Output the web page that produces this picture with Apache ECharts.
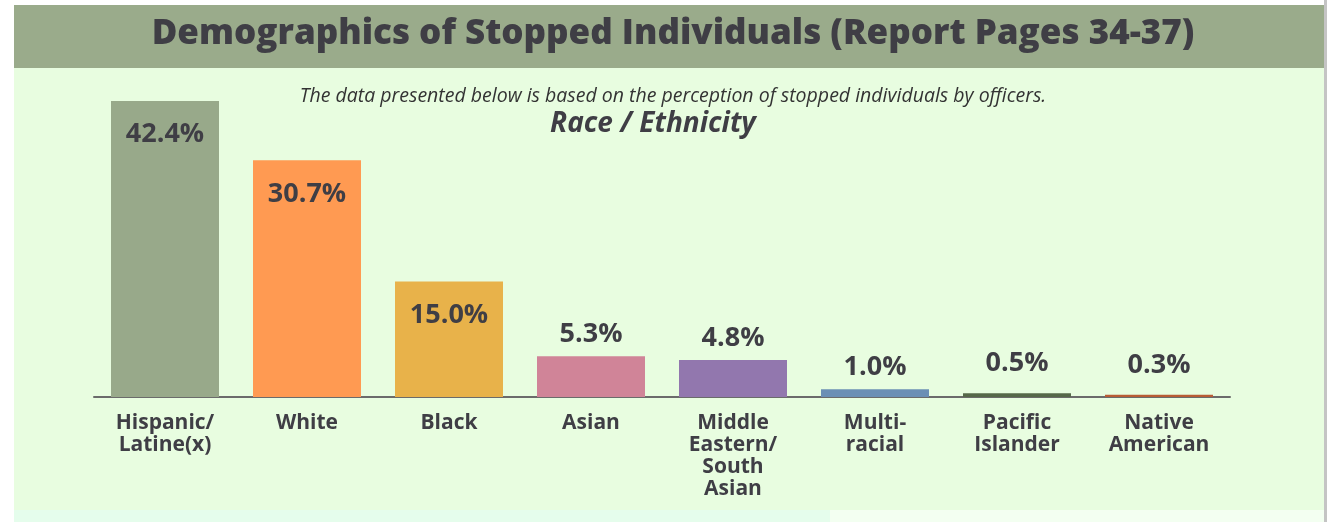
<!DOCTYPE html>
<html>
<head>
<meta charset="utf-8">
<title>Demographics of Stopped Individuals</title>
<script src="https://cdn.jsdelivr.net/npm/echarts@6/dist/echarts.min.js"></script>
<style>
  html, body {
    margin: 0;
    padding: 0;
    background: #ffffff;
  }
  #chart {
    width: 1332px;
    height: 522px;
  }
</style>
</head>
<body>
<div id="chart"></div>
<script>
// chart data
const categories = [
  'Hispanic/\nLatine(x)',
  'White',
  'Black',
  'Asian',
  'Middle\nEastern/\nSouth\nAsian',
  'Multi-\nracial',
  'Pacific\nIslander',
  'Native\nAmerican'
];
const values = [42.4, 30.7, 15.0, 5.3, 4.8, 1.0, 0.5, 0.3];
const barColors = ['#98a98a', '#ff9a52', '#e8b24a', '#d08498', '#9277ae', '#6b8fb5', '#56684a', '#b85c35'];

const textColor = '#3f3e45';

// big bars get the label inside, small ones above
const seriesData = values.map((v, i) => {
  const inside = v > 10;
  return {
    value: v,
    itemStyle: { color: barColors[i] },
    label: {
      position: inside ? 'insideTop' : 'top',
      distance: inside ? 20 : (v < 1 ? 16 : 8)
    }
  };
});

const chart = echarts.init(document.getElementById('chart'));

const option = {
  animation: false,
  backgroundColor: '#ffffff',
  graphic: [
    // header band
    { type: 'rect', z: -10, shape: { x: 14, y: 5, width: 1310, height: 63 }, style: { fill: '#9aab8b' } },
    // panel
    { type: 'rect', z: -10, shape: { x: 14, y: 68, width: 1310, height: 442 }, style: { fill: '#e8fde0' } },
    { type: 'rect', z: -10, shape: { x: 14, y: 510, width: 816, height: 12 }, style: { fill: '#e5fdec' } },
    { type: 'rect', z: -10, shape: { x: 830, y: 510, width: 494, height: 12 }, style: { fill: '#f3fff1' } },
    // scrollbar edge
    { type: 'rect', z: -10, shape: { x: 1324, y: 0, width: 3, height: 522 }, style: { fill: '#c4c4c4' } }
  ],
  title: [
    {
      text: 'Demographics of Stopped Individuals (Report Pages 34-37)',
      left: 668,
      top: 12,
      textAlign: 'center',
      textStyle: { fontFamily: 'Open Sans', fontWeight: 800, fontSize: 35, color: textColor }
    },
    {
      text: 'The data presented below is based on the perception of stopped individuals by officers.',
      left: 668,
      top: 81,
      textAlign: 'center',
      textStyle: { fontFamily: 'Open Sans', fontStyle: 'italic', fontWeight: 'normal', fontSize: 19.5, color: '#333333' }
    },
    {
      text: 'Race / Ethnicity',
      left: 648,
      top: 105,
      textAlign: 'center',
      textStyle: { fontFamily: 'Open Sans', fontStyle: 'italic', fontWeight: 'bold', fontSize: 28, color: textColor }
    }
  ],
  grid: {
    left: 94,
    right: 102,
    top: 101,
    bottom: 125
  },
  xAxis: {
    type: 'category',
    data: categories,
    axisLine: { lineStyle: { color: '#6b6b6b', width: 2 } },
    axisTick: { show: false },
    axisLabel: {
      interval: 0,
      margin: 15,
      fontFamily: 'Open Sans',
      fontWeight: 'bold',
      fontSize: 21,
      lineHeight: 22,
      color: textColor
    }
  },
  yAxis: {
    type: 'value',
    min: 0,
    max: 38.4,
    show: false,
    splitLine: { show: false }
  },
  series: [
    {
      type: 'bar',
      data: seriesData,
      barWidth: 108,
      clip: true,
      label: {
        show: true,
        formatter: p => p.value.toFixed(1) + '%',
        fontFamily: 'Open Sans',
        fontWeight: 'bold',
        fontSize: 27,
        color: textColor
      }
    }
  ]
};

chart.setOption(option);
</script>
</body>
</html>
